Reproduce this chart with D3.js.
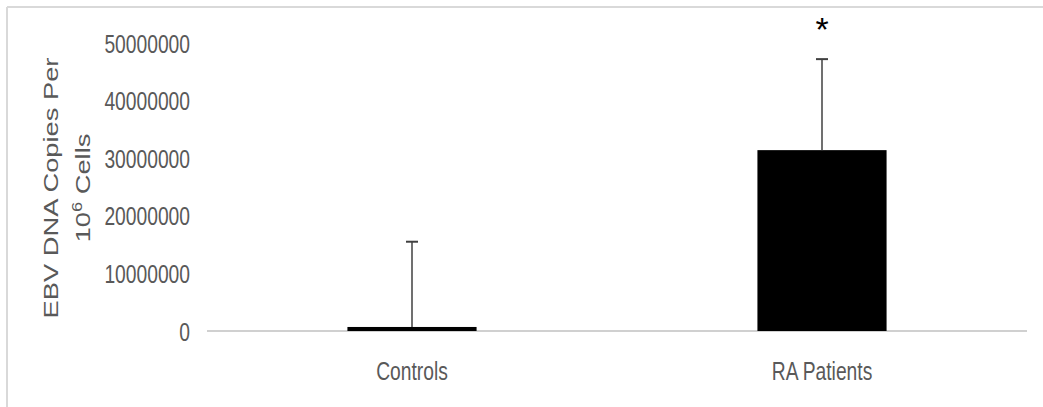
<!DOCTYPE html>
<html>
<head>
<meta charset="utf-8">
<script src="https://cdn.jsdelivr.net/npm/d3@7"></script>
<style>
    body { margin: 0; background: #fff; }
    .tick text { font-family: "Liberation Sans", Arial, sans-serif; }
</style>
</head>
<body>
<div id="chart"></div>
<script>
// data
let categories = ["Controls", "RA Patients"];
let means = [700000, 31400000];
let errors = [14800000, 15800000];   // upper error bar length
let yTicks = [0, 10000000, 20000000, 30000000, 40000000, 50000000];
let marks = ["", "*"];

let W = 1043, H = 407;
let margin = {top: 43, right: 16, bottom: 76, left: 207};

let svg = d3.select("#chart").append("svg")
    .attr("width", W)
    .attr("height", H);

// outer chart frame (only top and left edges show)
svg.append("line")
    .attr("x1", 7).attr("x2", W).attr("y1", 7).attr("y2", 7)
    .attr("stroke", "#d9d9d9").attr("stroke-width", 2);
svg.append("line")
    .attr("x1", 7).attr("x2", 7).attr("y1", 7).attr("y2", H)
    .attr("stroke", "#d9d9d9").attr("stroke-width", 2);

let g = svg.append("g")
    .attr("transform", "translate(" + margin.left + "," + margin.top + ")");

let width = W - margin.left - margin.right;
let height = 331 - margin.top;

let x = d3.scaleBand()
    .domain(categories)
    .range([0, width])
    .padding(0);

let y = d3.scaleLinear()
    .domain([0, 50000000])
    .range([height, 0]);

let barW = x.bandwidth() * 0.315;
let squeeze = 0.77;   // the picture's text is narrow (condensed font)

// y axis, labels only
let yAxis = d3.axisLeft(y)
    .tickValues(yTicks)
    .tickFormat(d3.format("d"))
    .tickSize(0)
    .tickPadding(17);

g.append("g")
    .attr("class", "y-axis")
    .call(yAxis)
    .call(a => a.select(".domain").remove())
    .selectAll("text")
    .attr("x", 0)
    .attr("transform", "translate(-17,0) scale(" + squeeze + ",1)")
    .attr("fill", "#595959")
    .attr("font-size", 25)
    .attr("dy", "0.36em");

// baseline
g.append("line")
    .attr("x1", 0).attr("x2", width)
    .attr("y1", y(0)).attr("y2", y(0))
    .attr("stroke", "#d0d0d0").attr("stroke-width", 2);

// bars
let bars = categories.map((c, i) => ({cat: c, mean: means[i], err: errors[i], mark: marks[i]}));

g.selectAll(".bar")
    .data(bars)
    .enter().append("rect")
    .attr("class", "bar")
    .attr("x", d => x(d.cat) + x.bandwidth() / 2 - barW / 2)
    .attr("width", barW)
    .attr("y", d => y(d.mean))
    .attr("height", d => y(0) - y(d.mean))
    .attr("fill", "#000");

// error bars
g.selectAll(".err")
    .data(bars)
    .enter().append("line")
    .attr("class", "err")
    .attr("x1", d => x(d.cat) + x.bandwidth() / 2)
    .attr("x2", d => x(d.cat) + x.bandwidth() / 2)
    .attr("y1", d => y(d.mean))
    .attr("y2", d => y(d.mean + d.err))
    .attr("stroke", "#404040").attr("stroke-width", 1.5);

g.selectAll(".cap")
    .data(bars)
    .enter().append("line")
    .attr("class", "cap")
    .attr("x1", d => x(d.cat) + x.bandwidth() / 2 - 6)
    .attr("x2", d => x(d.cat) + x.bandwidth() / 2 + 6)
    .attr("y1", d => y(d.mean + d.err))
    .attr("y2", d => y(d.mean + d.err))
    .attr("stroke", "#404040").attr("stroke-width", 2);

// significance mark
g.selectAll(".mark")
    .data(bars)
    .enter().append("text")
    .attr("class", "mark")
    .attr("x", d => x(d.cat) + x.bandwidth() / 2)
    .attr("y", d => y(d.mean + d.err) - 18)
    .attr("text-anchor", "middle")
    .attr("font-family", "Liberation Sans, Arial, sans-serif")
    .attr("font-size", 34)
    .attr("fill", "#000")
    .text(d => d.mark);

// x axis labels
let xAxis = d3.axisBottom(x)
    .tickSize(0)
    .tickPadding(30);

g.append("g")
    .attr("class", "x-axis")
    .attr("transform", "translate(0," + height + ")")
    .call(xAxis)
    .call(a => a.select(".domain").remove())
    .selectAll("text")
    .attr("y", 0)
    .attr("transform", "translate(0,31) scale(" + squeeze + ",1)")
    .attr("fill", "#595959")
    .attr("font-size", 25);

// y axis title, two lines, stretched along the text like the picture
let title = svg.append("text")
    .attr("transform", "translate(58,188) rotate(-90) scale(1.3,1)")
    .attr("text-anchor", "middle")
    .attr("font-family", "Liberation Sans, Arial, sans-serif")
    .attr("font-size", 21)
    .attr("fill", "#595959");

title.append("tspan")
    .attr("x", 0).attr("y", 0)
    .text("EBV DNA Copies Per");

let line2 = title.append("tspan")
    .attr("x", 0).attr("y", 32);
line2.append("tspan").text("10");
line2.append("tspan").attr("dy", -8).attr("font-size", 14).text("6");
line2.append("tspan").attr("dy", 8).text(" Cells");
</script>
</body>
</html>
